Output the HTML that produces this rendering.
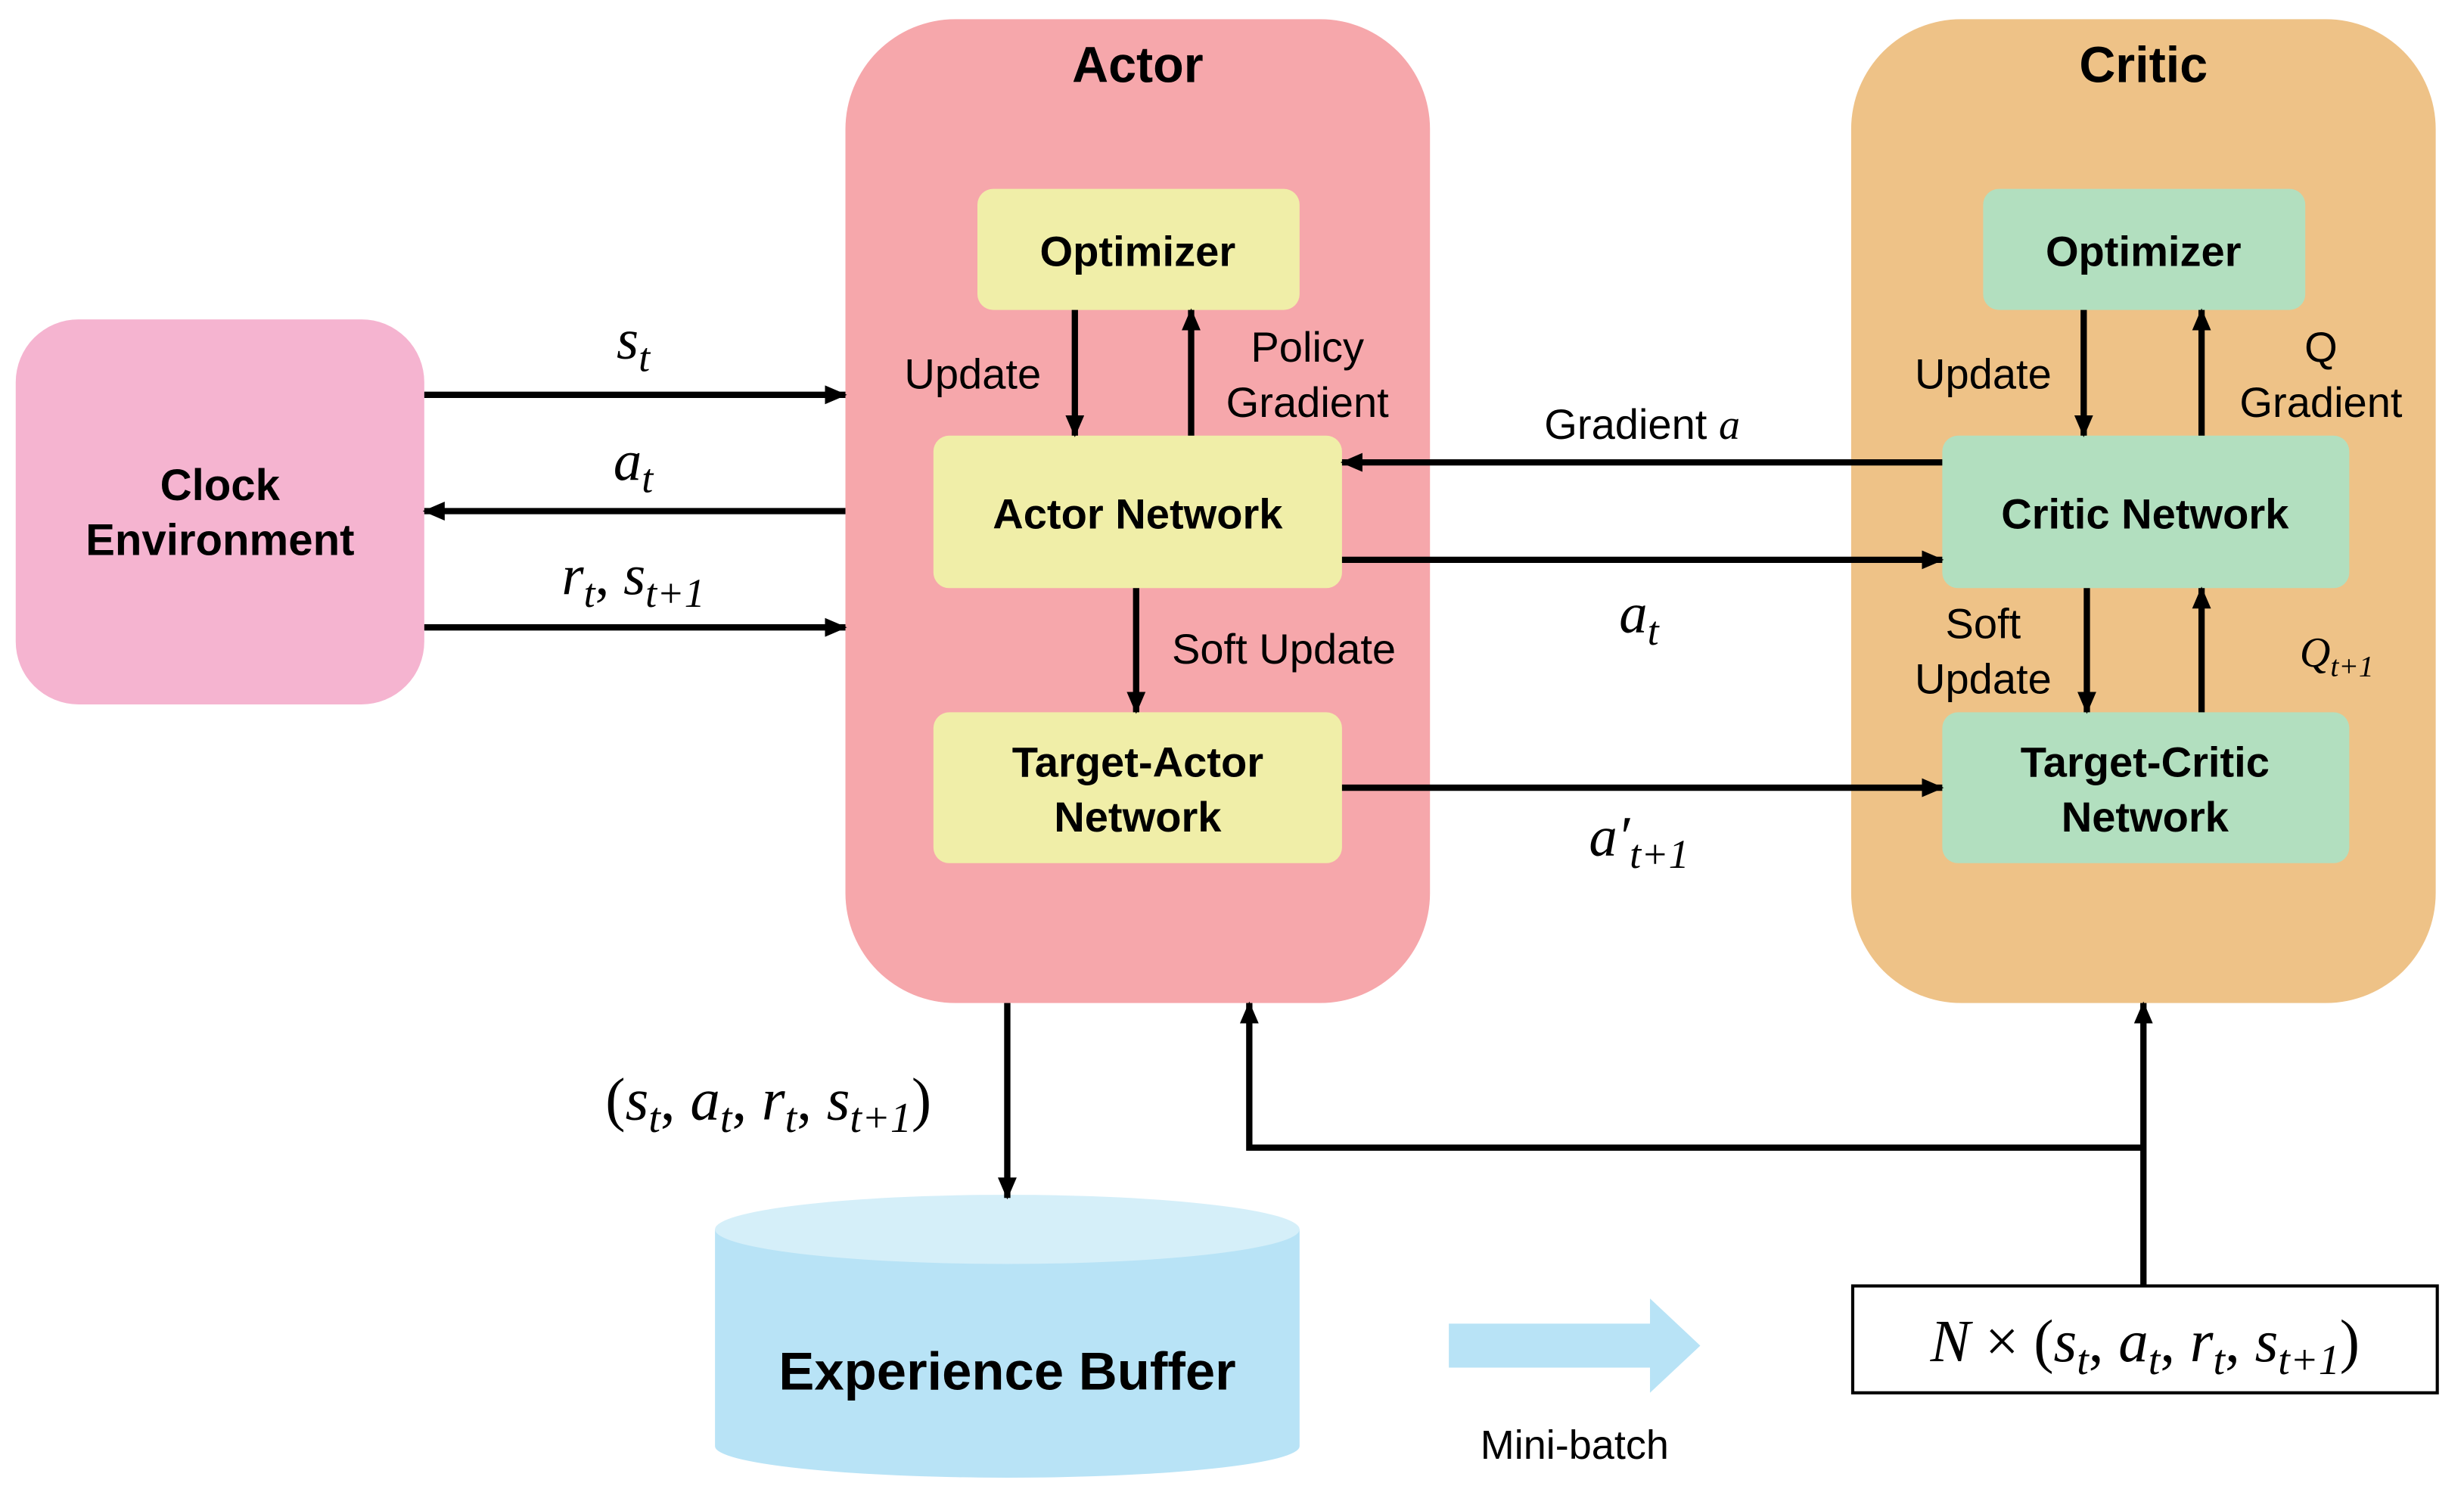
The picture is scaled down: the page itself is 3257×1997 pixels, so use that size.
<!DOCTYPE html>
<html><head><meta charset="utf-8"><style>
html,body{margin:0;padding:0;background:#fff;}
svg{display:block;}
.b{font-family:"Liberation Sans",sans-serif;font-weight:bold;fill:#000;}
.n{font-family:"Liberation Sans",sans-serif;fill:#000;}
.m{font-family:"Liberation Serif",serif;font-style:italic;fill:#000;}
.r{font-family:"Liberation Serif",serif;fill:#000;}
</style></head><body>
<svg width="3257" height="1997" viewBox="0 0 1568 961" xmlns="http://www.w3.org/2000/svg">
<defs>
<marker id="a" markerWidth="14" markerHeight="12" refX="13" refY="6" orient="auto" markerUnits="userSpaceOnUse" viewBox="0 0 14 12">
<path d="M0,0 L14,6 L0,12 z" fill="#000"/></marker>
</defs>
<rect x="10" y="203" width="260" height="245" rx="40" fill="#f5b4d0"/>
<text class="b" x="140" y="318" font-size="28" text-anchor="middle">Clock</text>
<text class="b" x="140" y="353" font-size="28" text-anchor="middle">Environment</text>

<rect x="538" y="12" width="372" height="626" rx="70" fill="#f6a7ab"/>
<text class="b" x="724" y="52" font-size="32" text-anchor="middle">Actor</text>
<rect x="1178" y="12" width="372" height="626" rx="70" fill="#eec287"/>
<text class="b" x="1364" y="52" font-size="32" text-anchor="middle">Critic</text>

<rect x="622" y="120" width="205" height="77" rx="10" fill="#f0eea8"/>
<text class="b" x="724" y="169" font-size="27" text-anchor="middle">Optimizer</text>
<rect x="594" y="277" width="260" height="97" rx="10" fill="#f0eea8"/>
<text class="b" x="724" y="336" font-size="27" text-anchor="middle">Actor Network</text>
<rect x="594" y="453" width="260" height="96" rx="10" fill="#f0eea8"/>
<text class="b" x="724" y="494" font-size="27" text-anchor="middle">Target-Actor</text>
<text class="b" x="724" y="529" font-size="27" text-anchor="middle">Network</text>

<rect x="1262" y="120" width="205" height="77" rx="10" fill="#b2dfbf"/>
<text class="b" x="1364" y="169" font-size="27" text-anchor="middle">Optimizer</text>
<rect x="1236" y="277" width="259" height="97" rx="10" fill="#b2dfbf"/>
<text class="b" x="1365" y="336" font-size="27" text-anchor="middle">Critic Network</text>
<rect x="1236" y="453" width="259" height="96" rx="10" fill="#b2dfbf"/>
<text class="b" x="1365" y="494" font-size="27" text-anchor="middle">Target-Critic</text>
<text class="b" x="1365" y="529" font-size="27" text-anchor="middle">Network</text>

<path d="M455,782 L455,920 A186,20 0 0 0 827,920 L827,782 Z" fill="#b8e3f6"/>
<ellipse cx="641" cy="782" rx="186" ry="22" fill="#d5eff9"/>
<text class="b" x="641" y="884" font-size="34" text-anchor="middle">Experience Buffer</text>

<path d="M922,842 L1050,842 L1050,826 L1082,856 L1050,886 L1050,870 L922,870 Z" fill="#b8e3f6"/>
<text class="n" x="1002" y="928" font-size="26" text-anchor="middle">Mini-batch</text>

<rect x="1179" y="818" width="372" height="68" fill="#fff" stroke="#000" stroke-width="2"/>
<text class="r" x="1365" y="866" font-size="38" text-anchor="middle"><tspan class="m">N</tspan> × (<tspan class="m">s<tspan font-size="27" dy="8">t</tspan></tspan><tspan dy="-8">, </tspan><tspan class="m">a<tspan font-size="27" dy="8">t</tspan></tspan><tspan dy="-8">, </tspan><tspan class="m">r<tspan font-size="27" dy="8">t</tspan></tspan><tspan dy="-8">, </tspan><tspan class="m">s<tspan font-size="27" dy="8">t+1</tspan></tspan><tspan dy="-8">)</tspan></text>

<g stroke="#000" stroke-width="4" fill="none" marker-end="url(#a)">
<line x1="270" y1="251" x2="538" y2="251"/>
<line x1="538" y1="325" x2="270" y2="325"/>
<line x1="270" y1="399" x2="538" y2="399"/>
<line x1="684" y1="197" x2="684" y2="277"/>
<line x1="758" y1="277" x2="758" y2="197"/>
<line x1="723" y1="374" x2="723" y2="453"/>
<line x1="1236" y1="294" x2="854" y2="294"/>
<line x1="854" y1="356" x2="1236" y2="356"/>
<line x1="854" y1="501" x2="1236" y2="501"/>
<line x1="1326" y1="197" x2="1326" y2="277"/>
<line x1="1401" y1="277" x2="1401" y2="197"/>
<line x1="1328" y1="374" x2="1328" y2="453"/>
<line x1="1401" y1="453" x2="1401" y2="374"/>
<line x1="641" y1="638" x2="641" y2="762"/>
<line x1="1364" y1="818" x2="1364" y2="638"/>
<polyline points="1364,730 795,730 795,638"/>
</g>

<text class="m" x="403" y="228" font-size="36" text-anchor="middle">s<tspan font-size="26" dy="8">t</tspan></text>
<text class="m" x="403" y="305" font-size="36" text-anchor="middle">a<tspan font-size="26" dy="8">t</tspan></text>
<text class="m" x="403" y="378" font-size="36" text-anchor="middle">r<tspan font-size="26" dy="8">t</tspan><tspan dy="-8" font-style="normal">, </tspan>s<tspan font-size="26" dy="8">t+1</tspan></text>
<text class="n" x="619" y="247" font-size="27" text-anchor="middle">Update</text>
<text class="n" x="832" y="230" font-size="27" text-anchor="middle">Policy</text>
<text class="n" x="832" y="265" font-size="27" text-anchor="middle">Gradient</text>
<text class="n" x="817" y="422" font-size="27" text-anchor="middle">Soft Update</text>
<text class="n" x="1045" y="279" font-size="27" text-anchor="middle">Gradient <tspan class="m">a</tspan></text>
<text class="m" x="1043" y="402" font-size="36" text-anchor="middle">a<tspan font-size="26" dy="8">t</tspan></text>
<text class="m" x="1043" y="544" font-size="36" text-anchor="middle">a′<tspan font-size="26" dy="8">t+1</tspan></text>
<text class="n" x="1262" y="247" font-size="27" text-anchor="middle">Update</text>
<text class="n" x="1477" y="230" font-size="27" text-anchor="middle">Q</text>
<text class="n" x="1477" y="265" font-size="27" text-anchor="middle">Gradient</text>
<text class="n" x="1262" y="406" font-size="27" text-anchor="middle">Soft</text>
<text class="n" x="1262" y="441" font-size="27" text-anchor="middle">Update</text>
<text class="m" x="1487" y="424" font-size="27" text-anchor="middle">Q<tspan font-size="19" dy="6">t+1</tspan></text>
<text class="r" x="489" y="712" font-size="38" text-anchor="middle">(<tspan class="m">s<tspan font-size="27" dy="8">t</tspan></tspan><tspan dy="-8">, </tspan><tspan class="m">a<tspan font-size="27" dy="8">t</tspan></tspan><tspan dy="-8">, </tspan><tspan class="m">r<tspan font-size="27" dy="8">t</tspan></tspan><tspan dy="-8">, </tspan><tspan class="m">s<tspan font-size="27" dy="8">t+1</tspan></tspan><tspan dy="-8">)</tspan></text>
</svg>
</body></html>
